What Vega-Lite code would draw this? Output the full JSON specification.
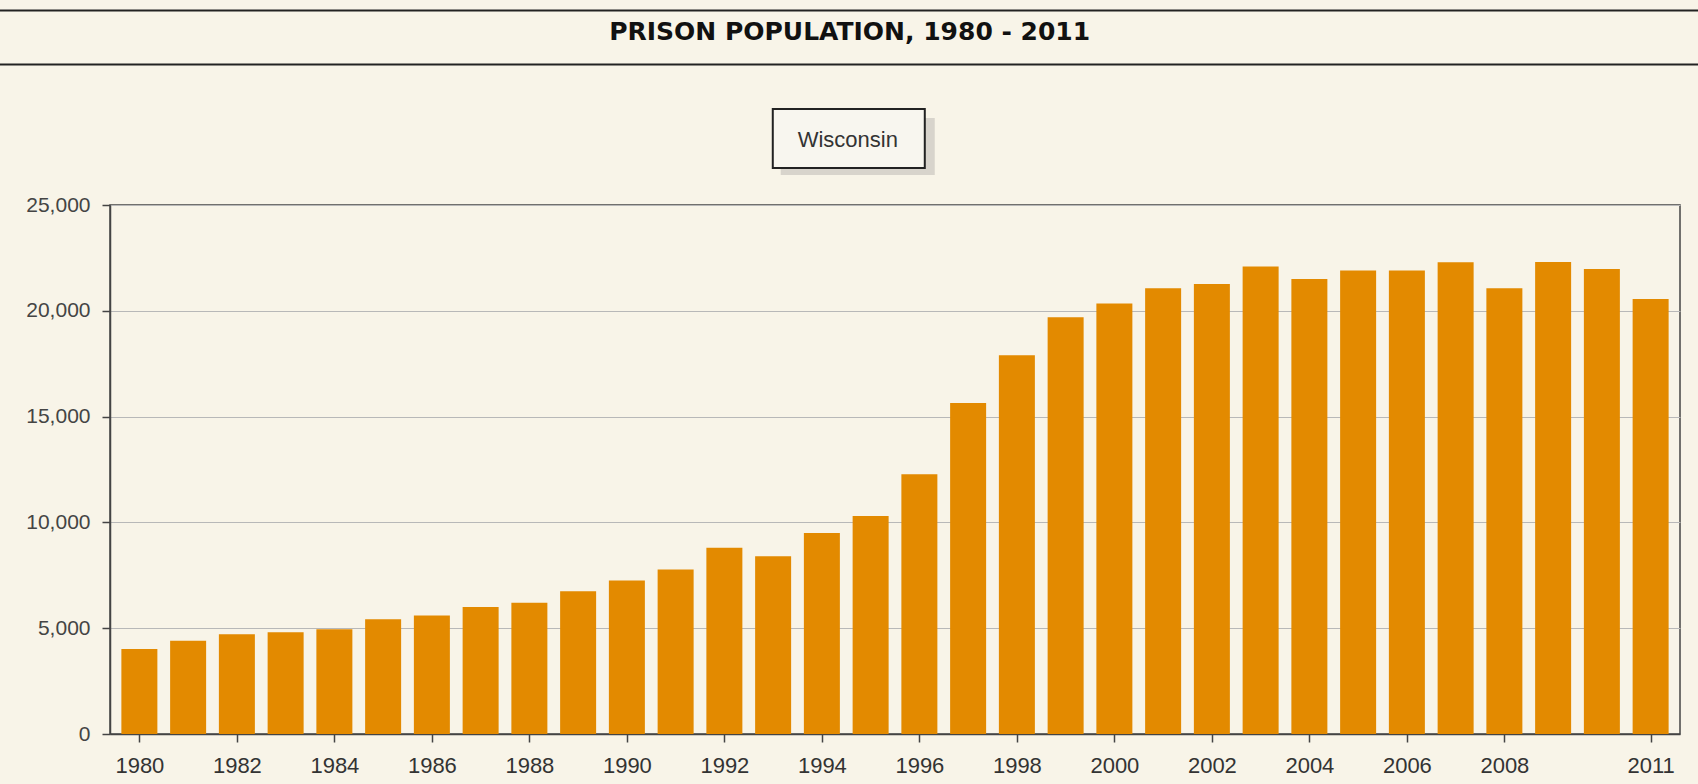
{
  "$schema": "https://vega.github.io/schema/vega-lite/v6.json",
  "width": 1570,
  "height": 529,
  "autosize": {"type": "none"},
  "padding": {"left": 110, "top": 205, "right": 18, "bottom": 50},
  "background": "#F8F4E8",
  "config": {
    "view": {"stroke": "#444", "strokeWidth": 1.5},
    "axis": {
      "labelFont": "Liberation Sans",
      "labelColor": "#333",
      "domainColor": "#444",
      "tickColor": "#444",
      "domainWidth": 1.5,
      "tickWidth": 1.5,
      "tickSize": 8,
      "title": null
    }
  },
  "layer": [
    {
      "data": {
        "values": [
          {"year": 1980, "population": 4017},
          {"year": 1981, "population": 4409},
          {"year": 1982, "population": 4712},
          {"year": 1983, "population": 4806},
          {"year": 1984, "population": 4948},
          {"year": 1985, "population": 5420},
          {"year": 1986, "population": 5600},
          {"year": 1987, "population": 6000},
          {"year": 1988, "population": 6200},
          {"year": 1989, "population": 6750},
          {"year": 1990, "population": 7260},
          {"year": 1991, "population": 7770},
          {"year": 1992, "population": 8800},
          {"year": 1993, "population": 8400},
          {"year": 1994, "population": 9500},
          {"year": 1995, "population": 10300},
          {"year": 1996, "population": 12270},
          {"year": 1997, "population": 15640},
          {"year": 1998, "population": 17900},
          {"year": 1999, "population": 19700},
          {"year": 2000, "population": 20350},
          {"year": 2001, "population": 21060},
          {"year": 2002, "population": 21270},
          {"year": 2003, "population": 22090},
          {"year": 2004, "population": 21500},
          {"year": 2005, "population": 21900},
          {"year": 2006, "population": 21900},
          {"year": 2007, "population": 22300},
          {"year": 2008, "population": 21060},
          {"year": 2009, "population": 22306},
          {"year": 2010, "population": 21975},
          {"year": 2011, "population": 20558}
        ]
      },
      "mark": {"type": "bar", "width": 36, "color": "#E38A00"},
      "encoding": {
        "x": {
          "field": "year",
          "type": "quantitative",
          "scale": {"domain": [1979.5, 2011.5], "nice": false, "zero": false},
          "axis": {
            "values": [1980, 1982, 1984, 1986, 1988, 1990, 1992, 1994, 1996, 1998, 2000, 2002, 2004, 2006, 2008, 2011],
            "format": "d",
            "grid": false,
            "labelFontSize": 22,
            "labelPadding": 13,
            "labelFlush": false,
            "labelOverlap": false
          }
        },
        "y": {
          "field": "population",
          "type": "quantitative",
          "scale": {"domain": [0, 25000], "nice": false},
          "axis": {
            "values": [0, 5000, 10000, 15000, 20000, 25000],
            "format": ",d",
            "grid": true,
            "gridColor": "#B8B8B8",
            "gridWidth": 1.2,
            "labelFontSize": 21,
            "labelPadding": 12,
            "labelColor": "#444"
          }
        }
      }
    },
    {
      "data": {"values": [{"heading": "PRISON POPULATION, 1980 - 2011", "series": "Wisconsin"}]},
      "layer": [
        {
          "mark": {"type": "rule", "color": "#222", "strokeWidth": 2},
          "encoding": {"x": {"datum": 1977.0}, "x2": {"datum": 2013.0}, "y": {"datum": 34192}}
        },
        {
          "mark": {"type": "rule", "color": "#222", "strokeWidth": 2},
          "encoding": {"x": {"datum": 1977.0}, "x2": {"datum": 2013.0}, "y": {"datum": 31640}}
        },
        {
          "mark": {"type": "text", "font": "DejaVu Sans", "fontWeight": "bold", "fontSize": 25, "color": "#111", "align": "center", "baseline": "middle"},
          "encoding": {"x": {"datum": 1994.57}, "y": {"datum": 33176}, "text": {"field": "heading"}}
        },
        {
          "mark": {"type": "rect", "color": "#CFCCC4", "opacity": 0.8},
          "encoding": {"x": {"datum": 1993.156}, "x2": {"datum": 1996.315}, "y": {"datum": 29112}, "y2": {"datum": 26418}}
        },
        {
          "mark": {"type": "rect", "fill": "#F8F6EF", "stroke": "#222", "strokeWidth": 2},
          "encoding": {"x": {"datum": 1992.993}, "x2": {"datum": 1996.111}, "y": {"datum": 29537}, "y2": {"datum": 26749}}
        },
        {
          "mark": {"type": "text", "font": "Liberation Sans", "fontSize": 22, "color": "#333", "align": "center", "baseline": "middle"},
          "encoding": {"x": {"datum": 1994.532}, "y": {"datum": 28072}, "text": {"field": "series"}}
        }
      ]
    }
  ]
}
